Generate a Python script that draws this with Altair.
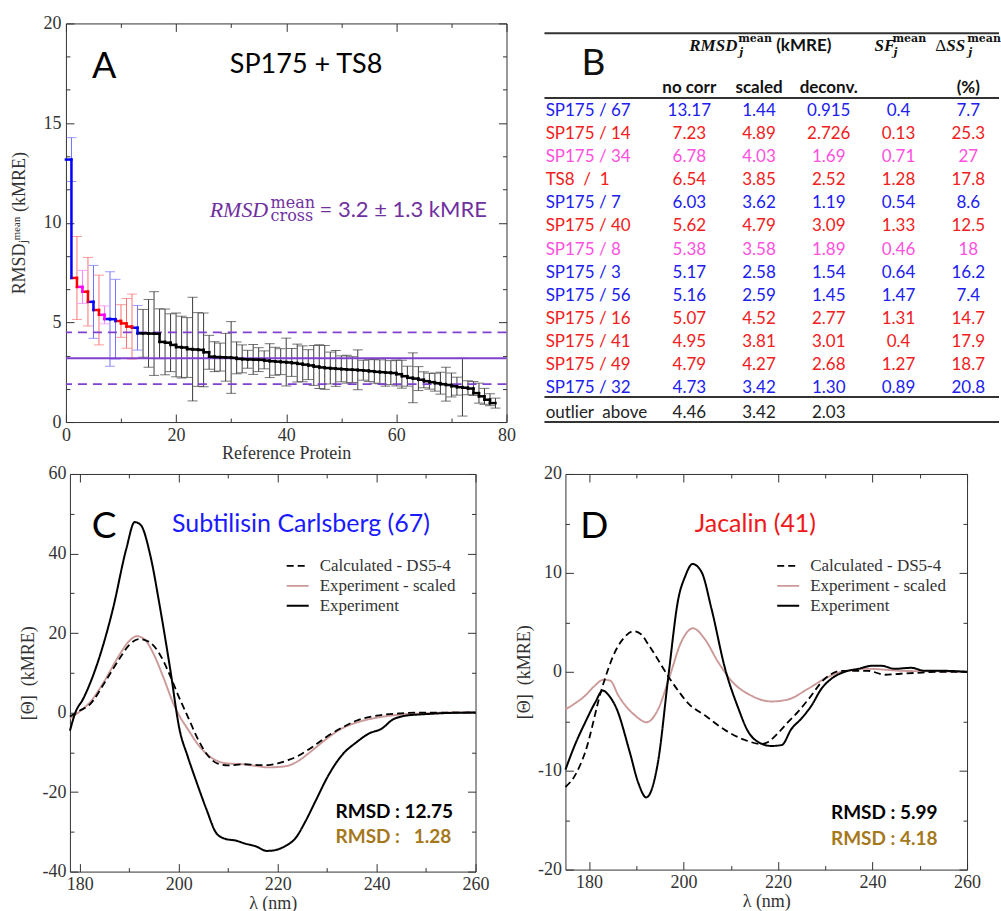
import altair as alt
import pandas as pd
import numpy as np

# ---------------- Panel A : RMSD per reference protein ----------------
TOP_VALUES = [13.17, 7.23, 6.78, 6.54, 6.03, 5.62, 5.38, 5.17, 5.16, 5.07, 4.95, 4.79, 4.73]
TOP_ERRORS = [1.10, 2.08, 0.83, 1.72, 1.83, 1.75, 0.45, 2.37, 2.00, 0.82, 1.25, 1.63, 1.12]
TOP_CLASS = ['blue', 'red', 'magenta', 'red', 'blue', 'red', 'magenta', 'blue', 'blue',
             'red', 'red', 'red', 'blue']
REST_VALUES = [4.45, 4.45, 4.44, 4.43, 4.02, 3.98, 3.87, 3.76, 3.74, 3.66, 3.64, 3.62, 3.50,
               3.28, 3.26, 3.25, 3.24, 3.22, 3.17, 3.15, 3.14, 3.13, 3.12,
               3.08, 3.05, 3.03, 3.01, 2.99, 2.96, 2.92, 2.88, 2.84, 2.78,
               2.74, 2.71, 2.69, 2.67, 2.65, 2.63, 2.62, 2.60, 2.58, 2.55,
               2.52, 2.50, 2.48, 2.46, 2.40, 2.30, 2.22, 2.18, 2.12, 2.05,
               2.00, 1.95, 1.90, 1.86, 1.80, 1.75, 1.72, 1.68, 1.45, 1.29, 1.12, 0.95]
REST_ERRORS = [1.2, 1.7, 2.1, 1.25, 1.65, 1.45, 1.6, 1.55, 1.5, 2.6, 1.85, 1.85, 0.85,
               0.75, 0.7, 1.2, 1.8, 0.8, 0.7, 0.45, 0.75, 0.6, 0.45,
               0.85, 0.7, 0.65, 1.2, 0.7, 0.95, 0.9, 0.75, 1.0, 1.1,
               1.1, 0.8, 0.9, 0.65, 0.7, 0.65, 1.0, 0.5, 0.55, 0.6,
               0.6, 0.7, 0.6, 0.65, 0.7, 0.5, 1.25, 0.6, 0.4, 0.4,
               0.45, 0.55, 0.85, 0.6, 0.45, 1.45, 0.35, 0.35, 0.5, 0.4, 0.3, 0.25]
MEAN_CROSS = 3.2
SD_CROSS = 1.3

# ---------------- Panel B : table ----------------
TABLE_NAMES = ['SP175 / 67', 'SP175 / 14', 'SP175 / 34', 'TS8\u00a0 /\u00a0 1', 'SP175 / 7',
               'SP175 / 40', 'SP175 / 8', 'SP175 / 3', 'SP175 / 56', 'SP175 / 16',
               'SP175 / 41', 'SP175 / 49', 'SP175 / 32']
NO_CORR = ['13.17', '7.23', '6.78', '6.54', '6.03', '5.62', '5.38', '5.17', '5.16', '5.07', '4.95', '4.79', '4.73']
SCALED = ['1.44', '4.89', '4.03', '3.85', '3.62', '4.79', '3.58', '2.58', '2.59', '4.52', '3.81', '4.27', '3.42']
DECONV = ['0.915', '2.726', '1.69', '2.52', '1.19', '3.09', '1.89', '1.54', '1.45', '2.77', '3.01', '2.68', '1.30']
SF_MEAN = ['0.4', '0.13', '0.71', '1.28', '0.54', '1.33', '0.46', '0.64', '1.47', '1.31', '0.4', '1.27', '0.89']
DSS_MEAN = ['7.7', '25.3', '27', '17.8', '8.6', '12.5', '18', '16.2', '7.4', '14.7', '17.9', '18.7', '20.8']
OUTLIER_NAME = 'outlier\u00a0 above'
OUTLIER = ['4.46', '3.42', '2.03']

# ---------------- Panel C : Subtilisin Carlsberg ----------------
C_CALC_X = [178, 180, 182, 185, 188, 190, 192, 194, 196, 198, 200, 202, 204, 206, 208, 210, 213,
            216, 218, 220, 222, 224, 226, 228, 230, 233, 236, 240, 245, 250, 255, 260]
C_CALC_Y = [-1.0, 0.5, 2.0, 7.5, 13.5, 17.0, 18.5, 17.8, 15.0, 10.0, 4.0, -1.5, -7.0, -11.0, -12.9,
            -13.3, -13.0, -13.2, -13.2, -12.8, -12.0, -11.0, -9.5, -7.8, -6.0, -3.8, -2.0, -0.8,
            -0.2, 0.0, 0.0, 0.0]
C_SCAL_X = [178, 180, 182, 185, 188, 190, 191.5, 193, 195, 197, 199, 200, 202, 204, 206, 208, 210,
            213, 216, 218, 220, 222, 224, 226, 228, 230, 233, 236, 240, 245, 250, 255, 260]
C_SCAL_Y = [-1.5, 0.3, 2.5, 8.0, 14.5, 18.0, 19.2, 18.5, 14.5, 8.5, 2.0, -0.5, -4.5, -8.2, -10.8,
            -12.3, -12.8, -13.0, -13.5, -13.8, -13.7, -13.4, -12.3, -10.5, -8.5, -6.5, -4.0, -2.5,
            -1.3, -0.5, -0.2, 0.0, 0.0]
C_EXP_X = [178, 179.1, 180.7, 183.4, 186.7, 189.4, 191.1, 192.3, 194.2, 196.2, 198.2, 200.2, 201.8,
           203.6, 205.5, 207.7, 209.5, 211.5, 213.5, 215.5, 217.8, 219.5, 221.5, 223.6, 225.6,
           227.6, 230.3, 233, 236, 238.4, 241.1, 243.1, 245.8, 248.5, 251.2, 254.6, 260]
C_EXP_Y = [-4.6, 0.0, 3.5, 11.8, 26.1, 41.2, 47.9, 47.2, 39.8, 26.5, 11.5, -4.5, -11.0, -17.5,
           -24.0, -30.5, -31.8, -32.2, -33.0, -33.6, -34.8, -34.6, -33.6, -31.6, -27.4, -22.4,
           -15.7, -10.7, -7.4, -5.3, -4.0, -1.9, -0.8, -0.5, -0.3, -0.1, 0.0]

# ---------------- Panel D : Jacalin ----------------
D_CALC_X = [175, 177, 179.2, 182.7, 185.8, 187.5, 189.4, 191, 192.5, 194.5, 196.8, 199, 201, 204.5,
            208.8, 213, 216.5, 217.9, 220, 222.1, 224.3, 226.4, 229.9, 233.4, 236, 239, 242.6,
            246, 249.6, 255, 260]
D_CALC_Y = [-11.65, -10.5, -8.1, -1.7, 2.3, 3.5, 4.1, 3.8, 2.8, 1.3, -0.5, -2.0, -3.2, -4.4, -5.9,
            -6.9, -7.3, -7.1, -6.2, -5.1, -4.0, -2.8, -0.7, 0.1, 0.1, 0.1, -0.3, -0.2, -0.1, 0.0, 0.0]
D_SCAL_X = [175, 177, 179.2, 181, 183.1, 184.5, 186.2, 188, 189.7, 192.2, 194.6, 197.1, 199.5, 202,
            204.5, 207.3, 210.1, 214.3, 218.6, 222.1, 226.4, 229.9, 233.4, 239, 246, 252, 260]
D_SCAL_Y = [-3.8, -3.2, -2.4, -1.5, -0.8, -0.9, -2.4, -3.6, -4.4, -5.1, -3.8, -0.4, 3.0, 4.4, 3.3,
            1.0, -0.9, -2.4, -3.0, -2.8, -1.7, -0.7, 0.0, 0.3, 0.1, 0.05, 0.0]
D_EXP_X = [175, 177, 179.2, 181.3, 182.9, 184.2, 185.8, 188.6, 190.4, 192.1, 194.6, 196.8, 198.9,
           200.3, 201.9, 203.8, 205.9, 208.8, 211.6, 213.5, 215.8, 218.6, 220.8, 222.8, 225,
           227.1, 229.2, 231.3, 234.1, 237, 239.8, 241.9, 244.7, 248.2, 251, 254.6, 260]
D_EXP_Y = [-9.9, -7.4, -5.1, -3.1, -1.9, -2.4, -3.7, -8.1, -11.2, -12.7, -9.1, -0.4, 7.4, 9.6,
           10.9, 10.1, 6.4, 0.3, -3.7, -5.9, -7.1, -7.5, -7.4, -5.8, -4.7, -3.4, -1.7, -0.7, 0.0,
           0.3, 0.6, 0.6, 0.3, 0.4, 0.1, 0.1, 0.0]

SERIES = ['Calculated - DS5-4', 'Experiment - scaled', 'Experiment']

# ---------------- styles ----------------
LINE_COL = {'blue': '#0000ff', 'red': '#ff0000', 'magenta': '#ff00ff', 'black': '#000000'}
BAR_COL = {'blue': '#7070ff', 'red': '#ff7070', 'magenta': '#ff80ff', 'black': '#3a3a3a'}
TABLE_COL = {'blue': '#2020ee', 'red': '#f02020', 'magenta': '#ff50e0', 'black': '#222222'}
PURPLE = '#8040d0'
PURPLE_TXT = '#7030a0'
GOLD = '#a5781c'
SANS = 'Lato'
SERIF = 'Liberation Serif'
ONE = pd.DataFrame({'one': [0]})


def ax(orient, values, size, labels=False, title=None, lpad=5, tpad=4):
    return alt.Axis(orient=orient, values=values, tickSize=size, offset=-size,
                    domain=False, grid=False, ticks=True, labels=labels,
                    labelFlush=False, labelPadding=lpad, titlePadding=tpad,
                    labelExpr="'' + datum.value", title=title)


def dtext(text, x, y, xs, ys, xaxis=None, yaxis=None, **mk):
    return alt.Chart(ONE).mark_text(text=text, **mk).encode(
        x=alt.XDatum(x, type='quantitative', scale=xs, axis=xaxis),
        y=alt.YDatum(y, type='quantitative', scale=ys, axis=yaxis))


# ================= Panel A =================
vals = TOP_VALUES + REST_VALUES
errs = TOP_ERRORS + REST_ERRORS
cls = TOP_CLASS + ['black'] * len(REST_VALUES)
n = len(vals)
dfA = pd.DataFrame({'idx': np.arange(1, n + 1), 'v': vals, 'e': errs, 'cls': cls})
dfA['x0'] = dfA['idx'] - 1
dfA['lo'] = dfA['v'] - dfA['e']
dfA['hi'] = dfA['v'] + dfA['e']
dfA['vnext'] = dfA['v'].shift(-1).fillna(dfA['v'])
dfA['lc'] = dfA['cls'].map(LINE_COL)
dfA['bc'] = dfA['cls'].map(BAR_COL)

xA = alt.Scale(domain=[0, 80], nice=False, zero=False)
yA = alt.Scale(domain=[0, 20], nice=False, zero=False)
XMAJ_A = [0, 20, 40, 60, 80]
XMIN_A = [10, 30, 50, 70]
YMAJ_A = [0, 5, 10, 15, 20]
YMIN_A = [round(i * 5 / 3, 4) for i in range(1, 12) if i % 3]

barsA = alt.Chart(dfA).mark_rule(strokeWidth=1).encode(
    x=alt.X('idx:Q', scale=xA, axis=ax('bottom', XMAJ_A, 8, labels=True,
                                        title='Reference Protein', lpad=4, tpad=1)),
    y=alt.Y('lo:Q', scale=yA, axis=ax('left', YMAJ_A, 8, labels=True,
                                       title='RMSD\u2C7C\u1D50\u1D49\u1D43\u207F (kMRE)',
                                       lpad=5, tpad=14)),
    y2='hi:Q',
    color=alt.Color('bc:N', scale=None))
capsA = alt.Chart(dfA).transform_fold(['lo', 'hi'], as_=['end', 'yy']).mark_tick(
    orient='horizontal', size=10, thickness=1).encode(
    x=alt.X('idx:Q', scale=xA, axis=ax('top', XMAJ_A, 8)),
    y=alt.Y('yy:Q', scale=yA, axis=ax('right', YMAJ_A, 8)),
    color=alt.Color('bc:N', scale=None))
dashA = alt.Chart(pd.DataFrame({'y': [MEAN_CROSS + SD_CROSS, MEAN_CROSS - SD_CROSS]})).mark_rule(
    color=PURPLE, strokeWidth=1.8, strokeDash=[9, 6]).encode(
    y=alt.Y('y:Q', scale=yA, axis=None))
solidA = alt.Chart(ONE).mark_rule(color=PURPLE, strokeWidth=2).encode(
    y=alt.YDatum(MEAN_CROSS, type='quantitative', scale=yA, axis=None))
hstepA = alt.Chart(dfA).mark_rule(strokeWidth=2.5, strokeCap='square').encode(
    x=alt.X('x0:Q', scale=xA, axis=ax('bottom', XMIN_A, 4)),
    x2='idx:Q',
    y=alt.Y('v:Q', scale=yA, axis=ax('left', YMIN_A, 4)),
    color=alt.Color('lc:N', scale=None))
vstepA = alt.Chart(dfA).transform_filter('datum.idx < %d' % n).mark_rule(
    strokeWidth=2.5, strokeCap='square').encode(
    x=alt.X('idx:Q', scale=xA, axis=ax('top', XMIN_A, 4)),
    y=alt.Y('v:Q', scale=yA, axis=ax('right', YMIN_A, 4)),
    y2='vnext:Q',
    color=alt.Color('lc:N', scale=None))

ANN_X, ANN_Y = 26.1, 10.65
textsA = [
    dtext('A', 6.95, 17.8, xA, yA, font=SANS, fontSize=36, color='black'),
    dtext('SP175 + TS8', 43.6, 17.9, xA, yA, font=SANS, fontSize=27, color='black'),
    dtext('RMSD', ANN_X, ANN_Y, xA, yA, align='left', font=SERIF, fontStyle='italic',
          fontSize=22, color=PURPLE_TXT),
    dtext('mean', ANN_X, ANN_Y, xA, yA, align='left', dx=61, dy=-7, font='DejaVu Serif',
          fontSize=16, color=PURPLE_TXT),
    dtext('cross', ANN_X, ANN_Y, xA, yA, align='left', dx=61, dy=6, font='DejaVu Serif',
          fontSize=16, color=PURPLE_TXT),
    dtext('= 3.2 \u00b1 1.3 kMRE', ANN_X, ANN_Y, xA, yA, align='left', dx=110, font=SANS,
          fontSize=22, color=PURPLE_TXT),
]
panelA = alt.layer(barsA, capsA, dashA, solidA, hstepA, vstepA, *textsA).resolve_axis(
    x='independent', y='independent').properties(width=441, height=399)

# ================= Panel B (table) =================
xB = alt.Scale(domain=[-1.077, 5.441], nice=False, zero=False)
yB = alt.Scale(domain=[-3.816, 13.49], nice=False, zero=False, reverse=True)
cells, names = [], []
for r, nm in enumerate(TABLE_NAMES):
    col = TABLE_COL[TOP_CLASS[r]]
    names.append({'r': r, 'c': 0, 'txt': nm, 'col': col})
    for c, arr in enumerate([NO_CORR, SCALED, DECONV, SF_MEAN, DSS_MEAN], start=1):
        cells.append({'r': r, 'c': c, 'txt': arr[r], 'col': col})
r_out = len(TABLE_NAMES) + 0.08
names.append({'r': r_out, 'c': 0, 'txt': OUTLIER_NAME, 'col': TABLE_COL['black']})
for c, v in enumerate(OUTLIER, start=1):
    cells.append({'r': r_out, 'c': c, 'txt': v, 'col': TABLE_COL['black']})
dfCells = pd.DataFrame(cells)
dfNames = pd.DataFrame(names)

RULES_B = [-3.395, -0.577, 12.40, 13.49]
rulesB = alt.Chart(pd.DataFrame({'r': RULES_B})).mark_rule(color='#333', strokeWidth=2).encode(
    y=alt.Y('r:Q', scale=yB, axis=None), x=alt.value(0), x2=alt.value(455))
namesB = alt.Chart(dfNames).mark_text(align='left', dx=-74, font=SANS, fontSize=17).encode(
    x=alt.X('c:Q', scale=xB, axis=None), y=alt.Y('r:Q', scale=yB, axis=None),
    text='txt:N', color=alt.Color('col:N', scale=None))
cellsB = alt.Chart(dfCells).mark_text(align='center', font=SANS, fontSize=17).encode(
    x=alt.X('c:Q', scale=xB, axis=None), y=alt.Y('r:Q', scale=yB, axis=None),
    text='txt:N', color=alt.Color('col:N', scale=None))
H1, H2 = -2.82, -1.01
hdr = dict(color='#111')
headB = [
    dtext('B', -0.375, -2.04, xB, yB, font=SANS, fontSize=37, **hdr),
    dtext('RMSD', 1, H1, xB, yB, align='left', font=SERIF, fontStyle='italic', fontWeight='bold',
          fontSize=17, **hdr),
    dtext('mean', 1, H1, xB, yB, align='left', dx=49, dy=-7, font='DejaVu Serif',
          fontWeight='bold', fontSize=11, **hdr),
    dtext('j', 1, H1, xB, yB, align='left', dx=50, dy=7, font='DejaVu Serif', fontStyle='italic',
          fontWeight='bold', fontSize=11, **hdr),
    dtext('(kMRE)', 1, H1, xB, yB, align='left', dx=87, font=SANS, fontWeight='bold',
          fontSize=17, **hdr),
    dtext('SF', 4, H1, xB, yB, align='left', dx=-24, font=SERIF, fontStyle='italic',
          fontWeight='bold', fontSize=17, **hdr),
    dtext('mean', 4, H1, xB, yB, align='left', dx=-6, dy=-7, font='DejaVu Serif',
          fontWeight='bold', fontSize=11, **hdr),
    dtext('j', 4, H1, xB, yB, align='left', dx=-5, dy=7, font='DejaVu Serif', fontStyle='italic',
          fontWeight='bold', fontSize=11, **hdr),
    dtext('\u0394', 5, H1, xB, yB, align='left', dx=-33, font=SERIF, fontSize=17, **hdr),
    dtext('SS', 5, H1, xB, yB, align='left', dx=-22, font=SERIF, fontStyle='italic',
          fontWeight='bold', fontSize=17, **hdr),
    dtext('mean', 5, H1, xB, yB, align='left', dx=-1, dy=-7, font='DejaVu Serif',
          fontWeight='bold', fontSize=11, **hdr),
    dtext('j', 5, H1, xB, yB, align='left', dx=0, dy=7, font='DejaVu Serif', fontStyle='italic',
          fontWeight='bold', fontSize=11, **hdr),
    dtext('no corr', 1, H2, xB, yB, font=SANS, fontWeight='bold', fontSize=17, **hdr),
    dtext('scaled', 2, H2, xB, yB, font=SANS, fontWeight='bold', fontSize=17, **hdr),
    dtext('deconv.', 3, H2, xB, yB, font=SANS, fontWeight='bold', fontSize=17, **hdr),
    dtext('(%)', 5, H2, xB, yB, font=SANS, fontWeight='bold', fontSize=17, **hdr),
]
panelB = alt.layer(rulesB, namesB, cellsB, *headB).properties(
    width=455, height=399, view=alt.ViewBackground(strokeOpacity=0))


# ================= Panels C and D =================
def long_df(triples):
    rows = []
    for name, xs, ys in triples:
        for x, y in zip(xs, ys):
            rows.append({'lam': x, 'val': y, 'series': name})
    return pd.DataFrame(rows)


def legend(lx):
    return alt.Legend(orient='none', legendX=lx, legendY=80, title=None, symbolType='stroke',
                      symbolSize=484, symbolStrokeWidth=2, labelFont=SERIF, labelFontSize=17,
                      labelColor='#333', rowPadding=0, padding=0, labelOffset=10)


def spectrum_panel(df, xs, ys, xmaj, xmin, ymaj, ymin, lx, letter, letter_xy, title,
                   title_xy, title_color, rmsd_x, rmsd_lines, width, height, ytpad):
    lines = alt.Chart(df).mark_line(interpolate='monotone').encode(
        x=alt.X('lam:Q', scale=xs, axis=ax('bottom', xmaj, 8, labels=True,
                                            title='\u03bb (nm)', lpad=4, tpad=1)),
        y=alt.Y('val:Q', scale=ys, axis=ax('left', ymaj, 8, labels=True,
                                            title='[\u0398]\u00a0\u00a0(kMRE)', lpad=4,
                                            tpad=ytpad)),
        color=alt.Color('series:N', scale=alt.Scale(domain=SERIES,
                                                    range=['#000000', '#cc9999', '#000000']),
                        legend=legend(lx)),
        strokeDash=alt.StrokeDash('series:N', scale=alt.Scale(domain=SERIES,
                                                              range=[[7, 4], [1, 0], [1, 0]]),
                                  legend=legend(lx)),
        strokeWidth=alt.StrokeWidth('series:N', scale=alt.Scale(domain=SERIES,
                                                                range=[1.8, 2.0, 1.4]),
                                    legend=None))
    t_letter = dtext(letter, letter_xy[0], letter_xy[1], xs, ys,
                     xaxis=ax('top', xmaj, 8), yaxis=ax('right', ymaj, 8),
                     font=SANS, fontSize=37, color='black')
    t_title = dtext(title, title_xy[0], title_xy[1], xs, ys,
                    xaxis=ax('bottom', xmin, 4), yaxis=ax('left', ymin, 4),
                    font=SANS, fontSize=25, color=title_color)
    (txt1, y1), (txt2, y2) = rmsd_lines
    t_r1 = dtext(txt1, rmsd_x, y1, xs, ys, xaxis=ax('top', xmin, 4), yaxis=ax('right', ymin, 4),
                 align='left', font=SANS, fontWeight='bold', fontSize=19, color='black')
    t_r2 = dtext(txt2, rmsd_x, y2, xs, ys, align='left', font=SANS, fontWeight='bold',
                 fontSize=19, color=GOLD)
    return alt.layer(lines, t_letter, t_title, t_r1, t_r2).resolve_axis(
        x='independent', y='independent').properties(width=width, height=height)


dfC = long_df([(SERIES[1], C_SCAL_X, C_SCAL_Y), (SERIES[2], C_EXP_X, C_EXP_Y),
               (SERIES[0], C_CALC_X, C_CALC_Y)])
dfD = long_df([(SERIES[1], D_SCAL_X, D_SCAL_Y), (SERIES[2], D_EXP_X, D_EXP_Y),
               (SERIES[0], D_CALC_X, D_CALC_Y)])

xC = alt.Scale(domain=[178, 260], nice=False, zero=False)
yC = alt.Scale(domain=[-40, 60], nice=False, zero=False)
xD = alt.Scale(domain=[175, 260], nice=False, zero=False)
yD = alt.Scale(domain=[-20, 20], nice=False, zero=False)

panelC = spectrum_panel(dfC, xC, yC, [180, 200, 220, 240, 260], [190, 210, 230, 250],
                        [-40, -20, 0, 20, 40, 60], [-30, -10, 10, 30, 50], 216,
                        'C', (184.9, 46.7), 'Subtilisin Carlsberg (67)', (224.7, 47.4), '#1a1aff',
                        231.7, [('RMSD : 12.75', -24.9), ('RMSD :\u00a0\u00a0 1.28', -31.2)],
                        406, 398, 4)
panelD = spectrum_panel(dfD, xD, yD, [180, 200, 220, 240, 260], [190, 210, 230, 250],
                        [-20, -10, 0, 10, 20], [-15, -5, 5, 15], 211,
                        'D', (181.1, 14.6), 'Jacalin (41)', (215.2, 14.9), '#f01818',
                        231.2, [('RMSD : 5.99', -14.3), ('RMSD : 4.18', -16.9)],
                        402, 396, 4)


def spacer(w):
    return alt.Chart(ONE).mark_point(opacity=0).encode(
        x=alt.value(0), y=alt.value(0)).properties(
        width=w, height=1, view=alt.ViewBackground(strokeOpacity=0))


RES = dict(color='independent', strokeDash='independent', strokeWidth='independent')
top = alt.hconcat(panelA, panelB, spacing=38, bounds='flush')
bottom = alt.hconcat(spacer(1), panelC, spacer(84), panelD, spacing=3,
                     bounds='flush').resolve_scale(**RES).resolve_legend(
    color='independent', strokeDash='independent')

chart = alt.vconcat(top, bottom, spacing=0).resolve_scale(
    **RES).resolve_legend(color='independent', strokeDash='independent').properties(
    padding={'left': 10, 'top': 13, 'right': 0, 'bottom': 0},
    background='white'
).configure_view(stroke='#333', strokeWidth=1).configure_axis(
    labelFont=SERIF, labelFontSize=18, labelColor='#333',
    titleFont=SERIF, titleFontSize=18, titleFontWeight='normal', titleColor='#333',
    tickColor='#333', tickWidth=1)

chart.save('out.html', embed_options={'renderer': 'svg', 'actions': False})
